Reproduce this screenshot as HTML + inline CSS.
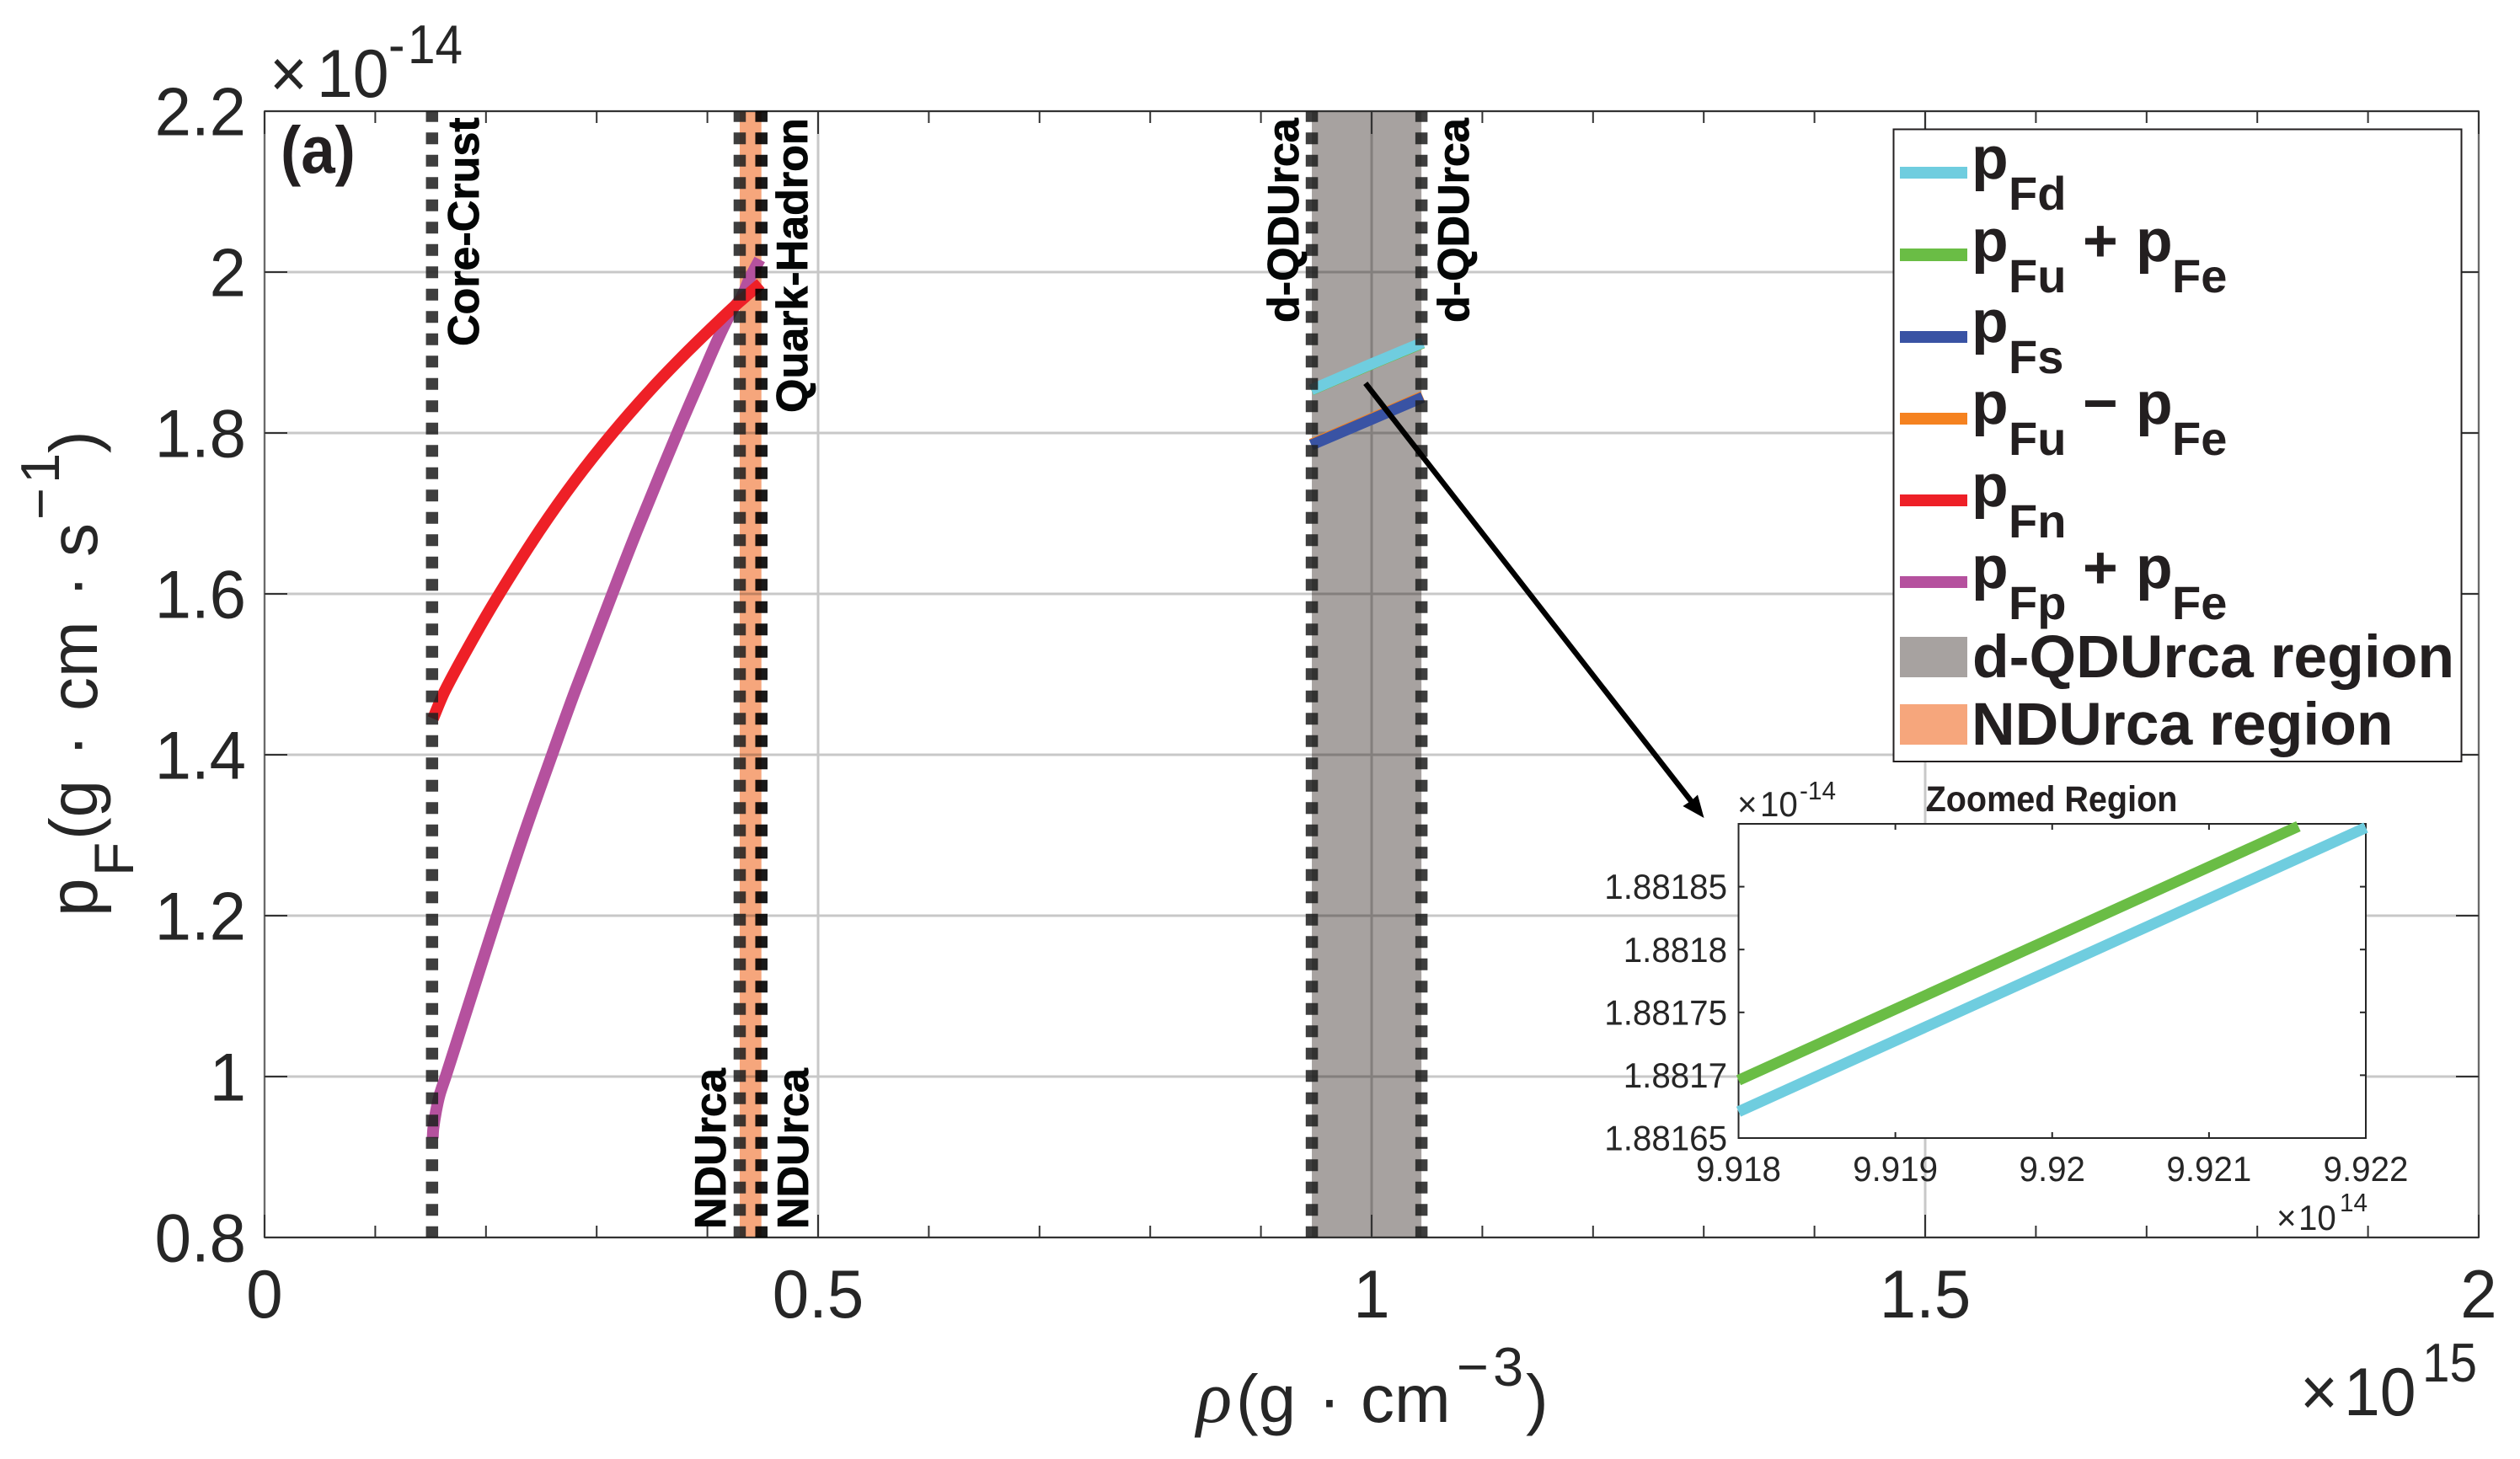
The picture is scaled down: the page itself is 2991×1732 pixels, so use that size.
<!DOCTYPE html>
<html lang="en">
<head>
<meta charset="utf-8">
<title>Fermi momentum versus density</title>
<style>
  html, body { margin: 0; padding: 0; background: #fff; width: 2991px; height: 1732px; overflow: hidden; }
  svg { display: block; font-family: "Liberation Sans", Arial, sans-serif; }
  .tick-label { font-size: 81px; fill: #262626; }
  .inset-label { font-size: 42px; fill: #262626; }
  .axis-text { font-size: 80px; fill: #262626; }
  .exp-text { font-size: 65px; fill: #262626; }
  .marker-label { font-size: 52px; font-weight: 700; fill: #040606; stroke: #040606; stroke-width: 0.8px; }
  .legend-main { font-size: 71.5px; font-weight: 700; fill: #231f20; }
  .legend-sub { font-size: 56px; font-weight: 700; fill: #231f20; }
</style>
</head>
<body>
<svg id="chart" xmlns="http://www.w3.org/2000/svg" width="2991" height="1732" viewBox="0 0 2991 1732">
  <rect x="0" y="0" width="2991" height="1732" fill="#ffffff"/>
  <g id="regions"></g>
  <g id="grid" style="mix-blend-mode:multiply"></g>
  <g id="axes"></g>
  <g id="series"></g>
  <g id="markers"></g>

  <g>
    <text class="marker-label" transform="translate(568,411) rotate(-90)">Core-Crust</text>
    <text class="marker-label" transform="translate(958,490) rotate(-90)">Quark-Hadron</text>
    <text class="marker-label" transform="translate(861,1459) rotate(-90)">NDUrca</text>
    <text class="marker-label" transform="translate(959,1459) rotate(-90)">NDUrca</text>
    <text class="marker-label" transform="translate(1541,383) rotate(-90)">d-QDUrca</text>
    <text class="marker-label" transform="translate(1743,383) rotate(-90)">d-QDUrca</text>
  </g>

  <text transform="translate(333,205) scale(0.92,1)" font-size="79" font-weight="700" fill="#231f20">(a)</text>

  <g>
    <text class="tick-label" transform="translate(320,115) scale(0.95,1)">×</text>
    <text class="tick-label" transform="translate(376,115) scale(0.95,1)">10</text>
    <text class="exp-text" transform="translate(461,75) scale(0.9,1)">-</text>
    <text class="exp-text" transform="translate(484,75) scale(0.9,1)">14</text>
  </g>

  <g>
    <text class="tick-label" transform="translate(2730,1680) scale(0.95,1)">×</text>
    <text class="tick-label" transform="translate(2782,1680) scale(0.95,1)">10</text>
    <text class="exp-text" transform="translate(2875,1640) scale(0.9,1)">15</text>
  </g>

  <g>
    <text x="1420" y="1688" font-size="88" font-style="italic" fill="#262626" style="font-family:'Liberation Serif',serif">ρ</text>
    <text class="axis-text" x="1467" y="1688">(g</text>
    <text class="axis-text" x="1578" y="1688" text-anchor="middle">·</text>
    <text class="axis-text" x="1615" y="1688">cm</text>
    <text class="exp-text" x="1729" y="1645">−</text>
    <text class="exp-text" x="1772" y="1645">3</text>
    <text class="axis-text" x="1811" y="1688">)</text>
  </g>

  <g>
    <text class="axis-text" style="font-size:82px" transform="translate(115,1088) rotate(-90)">p</text>
    <text class="exp-text" style="font-size:66px" transform="translate(158,1040) rotate(-90)">F</text>
    <text class="axis-text" transform="translate(115,997) rotate(-90)">(g</text>
    <text class="axis-text" text-anchor="middle" transform="translate(115,885) rotate(-90)">·</text>
    <text class="axis-text" transform="translate(115,844) rotate(-90)">cm</text>
    <text class="axis-text" text-anchor="middle" transform="translate(115,696) rotate(-90)">·</text>
    <text class="axis-text" transform="translate(115,661) rotate(-90)">s</text>
    <text class="exp-text" transform="translate(70,617) rotate(-90)">−</text>
    <text class="exp-text" transform="translate(70,574) rotate(-90)">1</text>
    <text class="axis-text" transform="translate(115,538) rotate(-90)">)</text>
  </g>

  <g id="inset">
    <rect x="2064" y="978" width="744" height="373" fill="#ffffff"/>
    <g id="inset-axes"></g>
    <g id="inset-series"></g>
    <text transform="translate(2435,963) scale(0.92,1)" text-anchor="middle" font-size="43" font-weight="700" fill="#231f20">Zoomed Region</text>
    <g>
      <text class="inset-label" transform="translate(2062,969) scale(0.96,1)">×</text>
      <text class="inset-label" transform="translate(2089,969) scale(0.96,1)">10</text>
      <text class="inset-label" style="font-size:31px" transform="translate(2136,949) scale(0.96,1)">-14</text>
    </g>
    <g>
      <text class="inset-label" transform="translate(2702,1460) scale(0.96,1)">×</text>
      <text class="inset-label" transform="translate(2728,1460) scale(0.96,1)">10</text>
      <text class="inset-label" style="font-size:31px" transform="translate(2777,1438) scale(0.96,1)">14</text>
    </g>
  </g>

  <g>
    <line x1="1620.7" y1="455" x2="2008" y2="952" stroke="#000000" stroke-width="6.5"/>
    <polygon points="2022.5,971 1997.4,957 2008,950 2015,943.5" fill="#000000"/>
  </g>

  <g>
    <rect x="2247.5" y="153.5" width="674" height="750.5" fill="#ffffff" stroke="#231f20" stroke-width="2"/>

    <g>
      <rect x="2255" y="198" width="80" height="14" fill="#6fcddf"/>
      <text class="legend-main" x="2340" y="212">p</text>
      <text class="legend-sub" x="2384" y="249">Fd</text>
    </g>
    <g>
      <rect x="2255" y="295" width="80" height="15" fill="#6abd45"/>
      <text class="legend-main" x="2340" y="310">p</text>
      <text class="legend-sub" x="2384" y="347">Fu</text>
      <text class="legend-main" x="2472" y="310">+</text>
      <text class="legend-main" x="2535" y="310">p</text>
      <text class="legend-sub" x="2578" y="347">Fe</text>
    </g>
    <g>
      <rect x="2255" y="393" width="80" height="14" fill="#3953a4"/>
      <text class="legend-main" x="2340" y="406">p</text>
      <text class="legend-sub" x="2384" y="443">Fs</text>
    </g>
    <g>
      <rect x="2255" y="490" width="80" height="14" fill="#f58220"/>
      <text class="legend-main" x="2340" y="503">p</text>
      <text class="legend-sub" x="2384" y="540">Fu</text>
      <text class="legend-main" x="2472" y="503">−</text>
      <text class="legend-main" x="2535" y="503">p</text>
      <text class="legend-sub" x="2578" y="540">Fe</text>
    </g>
    <g>
      <rect x="2255" y="587" width="80" height="14" fill="#ee2027"/>
      <text class="legend-main" x="2340" y="601">p</text>
      <text class="legend-sub" x="2384" y="638">Fn</text>
    </g>
    <g>
      <rect x="2255" y="684" width="80" height="14" fill="#b5519e"/>
      <text class="legend-main" x="2340" y="698">p</text>
      <text class="legend-sub" x="2384" y="735">Fp</text>
      <text class="legend-main" x="2472" y="698">+</text>
      <text class="legend-main" x="2535" y="698">p</text>
      <text class="legend-sub" x="2578" y="735">Fe</text>
    </g>
    <g>
      <rect x="2255" y="756" width="80" height="48" fill="#a7a2a0"/>
      <text class="legend-main" x="2341" y="804">d-QDUrca region</text>
    </g>
    <g>
      <rect x="2255" y="836" width="80" height="48" fill="#f6a67c"/>
      <text class="legend-main" x="2340" y="884">NDUrca region</text>
    </g>
  </g>
</svg>

<script>
// ---- main chart data (rho in 1e15 g/cm^3, pF in 1e-14 g cm/s) ----
const xMajorTicks = [0, 0.5, 1, 1.5, 2];
const xMajorLabels = ['0', '0.5', '1', '1.5', '2'];
const xMinorTicks = [0.1, 0.2, 0.3, 0.4, 0.6, 0.7, 0.8, 0.9, 1.1, 1.2, 1.3, 1.4, 1.6, 1.7, 1.8, 1.9];
const yMajorTicks = [0.8, 1, 1.2, 1.4, 1.6, 1.8, 2, 2.2];
const yMajorLabels = ['0.8', '1', '1.2', '1.4', '1.6', '1.8', '2', '2.2'];

const rhoPfn = [0.1522, 0.1629, 0.1872, 0.2121, 0.2481, 0.2811, 0.3145, 0.3495, 0.3826, 0.4132, 0.4285, 0.4482];
const pfn = [1.445, 1.4796, 1.5414, 1.600, 1.678, 1.7421, 1.8000, 1.8549, 1.9021, 1.943, 1.9625, 1.9857];
const rhoPfpe = [0.1519, 0.1524, 0.1549, 0.1581, 0.1636, 0.1857, 0.2100, 0.2352, 0.2595, 0.2806, 0.3141, 0.3364, 0.3728, 0.3927, 0.4104, 0.4231, 0.4307, 0.4384, 0.4473];
const pfpe = [0.9236, 0.935, 0.957, 0.977, 1.000, 1.0953, 1.200, 1.3047, 1.3993, 1.4796, 1.600, 1.6785, 1.8000, 1.8636, 1.9194, 1.9542, 1.9686, 1.9927, 2.0157];
const rhoQuark = [0.9455, 1.0, 1.0462];
const pfd = [1.8537, 1.8860, 1.9124];
const pfue = [1.8532, 1.8855, 1.9118];
const pfs = [1.785, 1.8170, 1.8444];
const pfuMinusE = [1.7862, 1.8182, 1.8456];

const ndurcaRegion = [0.4292, 0.4488];
const dqdurcaRegion = [0.946, 1.045];
const markerRhos = [0.1513, 0.4292, 0.4488, 0.946, 1.045];

// ---- inset data (rho in 1e14, pF in 1e-14) ----
const insetXTicks = [9.918, 9.919, 9.92, 9.921, 9.922];
const insetXLabels = ['9.918', '9.919', '9.92', '9.921', '9.922'];
const insetYTicks = [1.88165, 1.8817, 1.88175, 1.8818, 1.88185];
const insetYLabels = ['1.88165', '1.8817', '1.88175', '1.8818', '1.88185'];
const insetRhoGreen = [9.918, 9.92157];
const insetPGreen = [1.881696, 1.881898];
const insetRhoCyan = [9.918, 9.922];
const insetPCyan = [1.881671, 1.881897];

// ---- axis functions ----
const plot = { left: 314, right: 2942, top: 132, bottom: 1469 };
function sx(v) { return plot.left + (v - 0) / (2 - 0) * (plot.right - plot.left); }
function sy(v) { return plot.bottom - (v - 0.8) / (2.2 - 0.8) * (plot.bottom - plot.top); }
const ins = { left: 2063.5, right: 2808, top: 978, bottom: 1351 };
function ix(v) { return ins.left + (v - 9.918) / (9.922 - 9.918) * (ins.right - ins.left); }
function iy(v) { return ins.bottom - (v - 1.88165) / (1.8819 - 1.88165) * (ins.bottom - ins.top); }

const NS = 'http://www.w3.org/2000/svg';
function make(tag, attrs, parent) {
  const node = document.createElementNS(NS, tag);
  for (const k in attrs) node.setAttribute(k, attrs[k]);
  parent.appendChild(node);
  return node;
}
function seg(parent, x1, y1, x2, y2, stroke, width) {
  return make('line', { x1: x1, y1: y1, x2: x2, y2: y2, stroke: stroke, 'stroke-width': width }, parent);
}
function pathOf(xs, ys, fx, fy) {
  return xs.map(function (v, i) { return (i ? 'L' : 'M') + fx(v).toFixed(2) + ' ' + fy(ys[i]).toFixed(2); }).join(' ');
}
// Smooth curve through every data point, with tangents scaled by chord length.
function smoothPathOf(xs, ys, fx, fy) {
  const pts = xs.map(function (v, i) { return [fx(v), fy(ys[i])]; });
  function tangent(i) {
    const a = pts[Math.max(i - 1, 0)];
    const b = pts[Math.min(i + 1, pts.length - 1)];
    const dx = b[0] - a[0];
    const dy = b[1] - a[1];
    const len = Math.hypot(dx, dy) || 1;
    return [dx / len, dy / len];
  }
  let d = 'M' + pts[0][0].toFixed(2) + ' ' + pts[0][1].toFixed(2);
  for (let i = 0; i < pts.length - 1; i++) {
    const p = pts[i];
    const q = pts[i + 1];
    const len = Math.hypot(q[0] - p[0], q[1] - p[1]) / 3;
    const t0 = tangent(i);
    const t1 = tangent(i + 1);
    d += ' C' + (p[0] + t0[0] * len).toFixed(2) + ' ' + (p[1] + t0[1] * len).toFixed(2) +
         ' ' + (q[0] - t1[0] * len).toFixed(2) + ' ' + (q[1] - t1[1] * len).toFixed(2) +
         ' ' + q[0].toFixed(2) + ' ' + q[1].toFixed(2);
  }
  return d;
}

const regionsG = document.getElementById('regions');
const gridG = document.getElementById('grid');
const axesG = document.getElementById('axes');
const seriesG = document.getElementById('series');
const markersG = document.getElementById('markers');
const insetAxesG = document.getElementById('inset-axes');
const insetSeriesG = document.getElementById('inset-series');

// regions
const dqRect = make('rect', { x: sx(dqdurcaRegion[0]), y: plot.top, width: sx(dqdurcaRegion[1]) - sx(dqdurcaRegion[0]), height: plot.bottom - plot.top, fill: '#a7a2a0' }, regionsG);


const ndRect = make('rect', { x: sx(ndurcaRegion[0]), y: plot.top, width: sx(ndurcaRegion[1]) - sx(ndurcaRegion[0]), height: plot.bottom - plot.top, fill: '#f6a67c' }, regionsG);



// grid
xMajorTicks.forEach(function (v) {
  const g = seg(gridG, sx(v), plot.top, sx(v), plot.bottom, '#c8c8c8', 3);
  
  
});
yMajorTicks.forEach(function (v) {
  const g = seg(gridG, plot.left, sy(v), plot.right, sy(v), '#c8c8c8', 3);
  
  
});

// axes box
const box = make('rect', { x: plot.left, y: plot.top, width: plot.right - plot.left, height: plot.bottom - plot.top, fill: 'none', stroke: '#6a6a6a', 'stroke-width': 2 }, axesG);


const bottomAxis = seg(axesG, plot.left, plot.bottom, plot.right, plot.bottom, '#333333', 2);


const topAxis = seg(axesG, plot.left, plot.top, plot.right, plot.top, '#333333', 2);



// ticks
xMajorTicks.forEach(function (v, i) {
  const t1 = seg(axesG, sx(v), plot.bottom, sx(v), plot.bottom - 27, '#333333', 2);
  
  
  const t2 = seg(axesG, sx(v), plot.top, sx(v), plot.top + 27, '#333333', 2);
  
  
  const lab = make('text', { transform: 'translate(' + sx(v) + ',1564) scale(0.963,1)', 'text-anchor': 'middle', class: 'tick-label' }, axesG);
  lab.textContent = xMajorLabels[i];
  
  
});
xMinorTicks.forEach(function (v) {
  const t1 = seg(axesG, sx(v), plot.bottom, sx(v), plot.bottom - 14, '#333333', 2);
  
  
  const t2 = seg(axesG, sx(v), plot.top, sx(v), plot.top + 14, '#333333', 2);
  
  
});
yMajorTicks.forEach(function (v, i) {
  const t1 = seg(axesG, plot.left, sy(v), plot.left + 27, sy(v), '#333333', 2);
  
  
  const t2 = seg(axesG, plot.right, sy(v), plot.right - 27, sy(v), '#333333', 2);
  
  
  const lab = make('text', { transform: 'translate(292,' + (sy(v) + 28.4) + ') scale(0.963,1)', 'text-anchor': 'end', class: 'tick-label' }, axesG);
  lab.textContent = yMajorLabels[i];
  
  
});

// series
function drawMain(xs, ys, color, width) {
  return make('path', { d: smoothPathOf(xs, ys, sx, sy), fill: 'none', stroke: color, 'stroke-width': width, 'stroke-linejoin': 'round' }, seriesG);
}
const lineFu = drawMain(rhoQuark, pfue, '#6abd45', 13);


const lineFd = drawMain(rhoQuark, pfd, '#6fcddf', 13);


const lineOrange = drawMain(rhoQuark, pfuMinusE, '#f58220', 13);


const lineFs = drawMain(rhoQuark, pfs, '#3953a4', 13);


const lineFp = drawMain(rhoPfpe, pfpe, '#b5519e', 14);


const lineFn = drawMain(rhoPfn, pfn, '#ee2027', 14);



// dashed vertical markers
markerRhos.forEach(function (v, i) {
  const color = i === 2 ? 'rgba(0,0,0,0.9)' : 'rgba(32,32,32,0.865)';
  const m = make('line', { x1: sx(v), y1: plot.top, x2: sx(v), y2: plot.bottom, stroke: color, 'stroke-width': 14.5, 'stroke-dasharray': '14 12.5', 'stroke-dashoffset': 1.3 }, markersG);
  
  
});

// inset axes
const insetBox = make('rect', { x: ins.left, y: ins.top, width: ins.right - ins.left, height: ins.bottom - ins.top, fill: 'none', stroke: '#262626', 'stroke-width': 2 }, insetAxesG);


insetXTicks.forEach(function (v, i) {
  const t1 = seg(insetAxesG, ix(v), ins.bottom, ix(v), ins.bottom - 7, '#262626', 2);
  
  
  const t2 = seg(insetAxesG, ix(v), ins.top, ix(v), ins.top + 7, '#262626', 2);
  
  
  const lab = make('text', { transform: 'translate(' + ix(v) + ',1402) scale(0.96,1)', 'text-anchor': 'middle', class: 'inset-label' }, insetAxesG);
  lab.textContent = insetXLabels[i];
  
  
});
insetYTicks.forEach(function (v, i) {
  const t1 = seg(insetAxesG, ins.left, iy(v), ins.left + 7, iy(v), '#262626', 2);
  
  
  const t2 = seg(insetAxesG, ins.right, iy(v), ins.right - 7, iy(v), '#262626', 2);
  
  
  const lab = make('text', { transform: 'translate(2050,' + (iy(v) + 14.6) + ') scale(0.96,1)', 'text-anchor': 'end', class: 'inset-label' }, insetAxesG);
  lab.textContent = insetYLabels[i];
  
  
});

// inset series
const insetGreen = make('path', { d: pathOf(insetRhoGreen, insetPGreen, ix, iy), fill: 'none', stroke: '#6abd45', 'stroke-width': 13 }, insetSeriesG);


const insetCyan = make('path', { d: pathOf(insetRhoCyan, insetPCyan, ix, iy), fill: 'none', stroke: '#6fcddf', 'stroke-width': 13 }, insetSeriesG);


</script>
</body>
</html>
